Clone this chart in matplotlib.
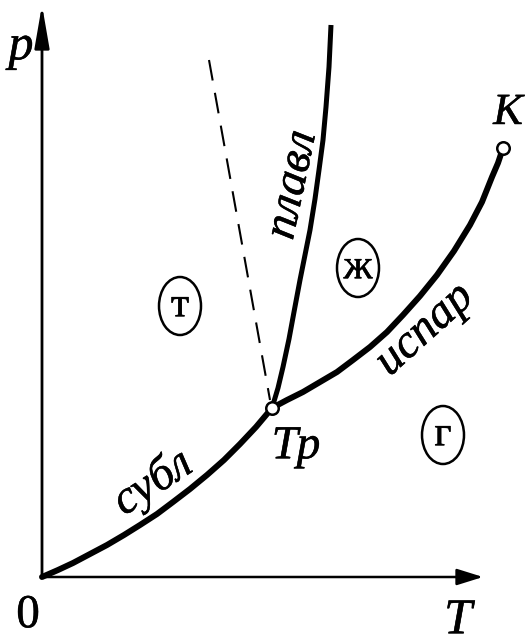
import matplotlib
matplotlib.use('Agg')
import matplotlib.pyplot as plt
import matplotlib.patheffects as pe
from matplotlib.patches import Ellipse, FancyArrowPatch

# phase diagram, arbitrary units (origin = axes corner)
subl_T = [0, 16, 31, 48, 65, 82, 98, 115, 131, 148, 165, 182, 198, 214, 230]
subl_p = [0, 7, 14, 23, 32, 42, 52, 63, 75, 88, 102, 117, 133, 150, 169]

ispar_T = [230, 245, 261, 278, 295, 311, 328, 345, 361, 378, 395, 412, 428, 440, 450, 456, 461]
ispar_p = [169, 177, 185, 195, 205, 217, 230, 245, 262, 281, 302, 326, 352, 375, 400, 414, 429]

plavl_T = [230, 236, 241, 247, 252, 258, 263, 268, 273, 277, 281, 284, 287, 289]
plavl_p = [169, 189, 210, 238, 265, 297, 322, 347, 378, 407, 437, 470, 510, 552]

dash_T = [167, 228]
dash_p = [517, 177]

triple = (230, 169)
crit = (461, 429)

phases = ['т', 'ж', 'г']
phase_T = [138, 316, 401]
phase_p = [271, 309, 142]

T_max = 441
p_max = 572

serif = ['Liberation Serif', 'DejaVu Serif']
heavy = [pe.withStroke(linewidth=0.35, foreground='black')]

fig = plt.figure(figsize=(5.25, 6.43), dpi=100)
ax = fig.add_axes([0, 0, 1, 1])
ax.set_xlim(-42, 483)
ax.set_ylim(-66, 577)
ax.axis('off')

# axes with arrows
ax.add_patch(FancyArrowPatch((0, 0), (T_max, 0), arrowstyle='-|>,head_length=16,head_width=5',
                             mutation_scale=1, lw=1.8, color='black', shrinkA=0, shrinkB=0))
ax.add_patch(FancyArrowPatch((0, 0), (0, p_max), arrowstyle='-|>,head_length=26,head_width=4.5',
                             mutation_scale=1, lw=2.0, color='black', shrinkA=0, shrinkB=0))

# curves
ax.plot(dash_T, dash_p, color='black', lw=1.5, dashes=(10, 6))
ax.plot(subl_T, subl_p, color='black', lw=4.3, solid_capstyle='round', solid_joinstyle='round')
ax.plot(ispar_T, ispar_p, color='black', lw=4.3, solid_capstyle='round', solid_joinstyle='round')
ax.plot(plavl_T, plavl_p, color='black', lw=3.6, solid_capstyle='butt', solid_joinstyle='round')

ax.plot(*triple, 'o', ms=9, mfc='white', mec='black', mew=1.8, zorder=5)
ax.plot(*crit, 'o', ms=9, mfc='white', mec='black', mew=1.8, zorder=5)

# phase regions
for name, t, p in zip(phases, phase_T, phase_p):
    ax.add_patch(Ellipse((t, p), 42, 58, fill=False, lw=1.8, color='black'))
    ax.text(t, p, name, family=serif, fontsize=30, ha='center', va='center', path_effects=heavy)


def label(x, y, s, size=32, rot=0, style='italic'):
    ax.text(x, y, s, family=serif, style=style, fontsize=size, rotation=rot,
            rotation_mode='anchor', ha='center', va='center', path_effects=heavy)


label(-21, 530, 'p', 36)
label(-14, -39, '0', 34, style='normal')
label(416, -44, 'T', 36)
label(466, 464, 'K', 32)
label(254, 130, 'Тр', 34)
label(111, 94, 'субл', 34, 33)
label(383, 247, 'испар', 34, 42)
label(251, 392, 'плавл', 34, 78)

fig.savefig('out.png', dpi=100)
